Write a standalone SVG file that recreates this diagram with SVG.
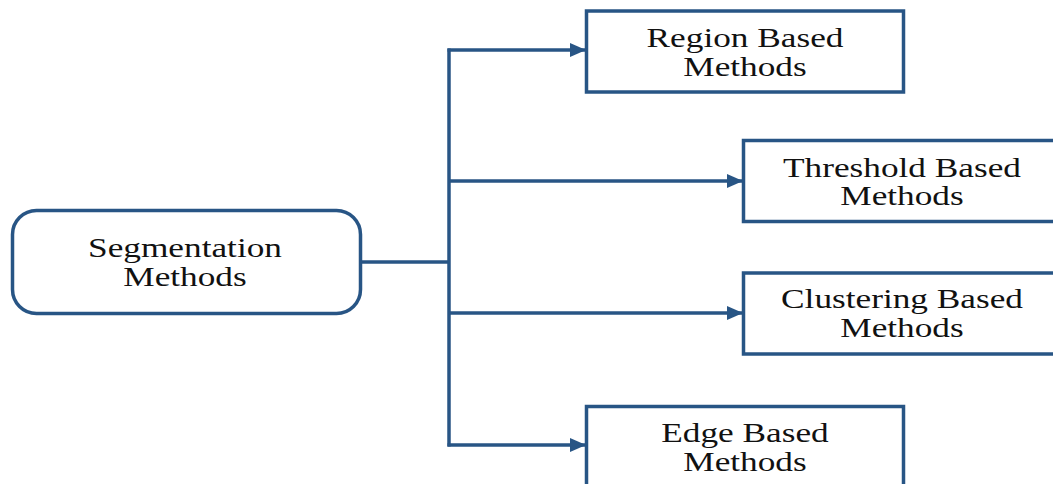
<svg xmlns="http://www.w3.org/2000/svg" width="1053" height="484" viewBox="0 0 1053 484">
<style>
.box{fill:#fff;stroke:#285585;stroke-width:3.5}
.ln{fill:none;stroke:#285585;stroke-width:3.5}
.t{font-family:"Liberation Serif","Times New Roman",serif;font-size:28px;fill:#111;text-anchor:middle}
</style>
<defs>
<marker id="ah" markerUnits="userSpaceOnUse" markerWidth="16" markerHeight="14" refX="15" refY="7" orient="auto">
<path d="M0,0 L16,7 L0,14 Z" fill="#285585"/>
</marker>
</defs>
<rect width="1053" height="484" fill="#fff"/>
<g id="connectors">
<line class="ln" x1="360" y1="262" x2="449" y2="262"/>
<line class="ln" x1="449" y1="48.5" x2="449" y2="446.5"/>
<line class="ln" x1="447.5" y1="50" x2="585" y2="50" marker-end="url(#ah)"/>
<line class="ln" x1="449" y1="181" x2="742" y2="181" marker-end="url(#ah)"/>
<line class="ln" x1="449" y1="313" x2="742" y2="313" marker-end="url(#ah)"/>
<line class="ln" x1="447.5" y1="445" x2="585" y2="445" marker-end="url(#ah)"/>
</g>
<g id="segmentation">
<rect class="box" x="12.5" y="210.5" width="348" height="103" rx="24"/>
<g transform="translate(185,0) scale(1.26,1)"><text class="t" x="0" y="257">Segmentation</text><text class="t" x="0" y="286">Methods</text></g>
</g>
<g id="region">
<rect class="box" x="586.5" y="11" width="317" height="81"/>
<g transform="translate(745,0) scale(1.26,1)"><text class="t" x="0" y="47">Region Based</text><text class="t" x="0" y="76">Methods</text></g>
</g>
<g id="threshold">
<rect class="box" x="743.5" y="140.5" width="320" height="81"/>
<g transform="translate(902,0) scale(1.26,1)"><text class="t" x="0" y="177">Threshold Based</text><text class="t" x="0" y="205">Methods</text></g>
</g>
<g id="clustering">
<rect class="box" x="743.5" y="273" width="320" height="81"/>
<g transform="translate(902,0) scale(1.26,1)"><text class="t" x="0" y="308">Clustering Based</text><text class="t" x="0" y="337">Methods</text></g>
</g>
<g id="edge">
<rect class="box" x="586.5" y="406.5" width="317" height="90"/>
<g transform="translate(745,0) scale(1.26,1)"><text class="t" x="0" y="442">Edge Based</text><text class="t" x="0" y="471">Methods</text></g>
</g>
</svg>
